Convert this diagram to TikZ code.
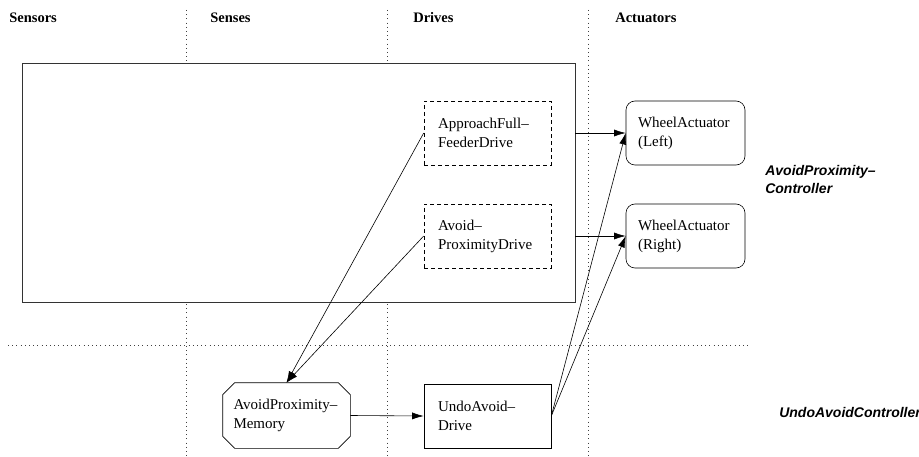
\documentclass[tikz,border=0pt]{standalone}
\usepackage{fontspec}
\setmainfont{Liberation Serif}
\newfontfamily\ctlfont{Liberation Sans}
\usetikzlibrary{arrows.meta}
\tikzstyle{every node}=[inner sep=0pt, font=\fontsize{15}{19}\selectfont]
\tikzset{divider/.style={draw=black!75, line width=0.7pt, dash pattern=on 0.8pt off 3.4pt}}
\tikzset{block/.style={draw, line width=0.6pt, minimum width=127pt, minimum height=64pt,
      align=left, text width=99pt, inner xsep=14pt}}
\tikzset{module/.style={block, dashed, dash pattern=on 4pt off 3pt}}
\tikzset{wheel/.style={block, rounded corners=9pt, minimum width=119pt, text width=95pt, inner xsep=12pt}}
\tikzset{layer/.style={anchor=west, align=left, font=\ctlfont\bfseries\itshape\fontsize{14}{18}\selectfont}}
\tikzset{column/.style={anchor=west, font=\bfseries\fontsize{14.5}{17}\selectfont}}

\begin{document}
\begin{tikzpicture}[x=1pt, y=-1pt, line width=0.6pt, >={Latex[length=11.5pt,width=7pt]}]
    \useasboundingbox (0,0) rectangle (919,457);

    \draw[divider] (186,10) -- (186,457);
    \draw[divider] (387,10) -- (387,457);
    \draw[divider] (588,10) -- (588,457);
    \draw[divider] (8,345) -- (750,345);

    \node[column] (sensors) at (9,18) {Sensors};
    \node[column] (senses) at (210,18) {Senses};
    \node[column] (drives) at (413,18) {Drives};
    \node[column] (actuators) at (615,18) {Actuators};

    \node[draw=black!80, line width=0.8pt, fill=white, minimum width=553pt, minimum height=239pt] (ctl) at (298.5,182.5) {};
    \node[module] (afd) at (487.5,133) {ApproachFull–\\FeederDrive};
    \node[module] (apd) at (487.5,236) {Avoid–\\ProximityDrive};
    \node[wheel] (wl) at (685.5,133) {WheelActuator\\(Left)};
    \node[wheel] (wr) at (685.5,236) {WheelActuator\\(Right)};

    \node[block, draw=none, minimum height=65pt, text width=106pt, inner xsep=10.5pt] (mem) at (286.5,415.5) {AvoidProximity–\\Memory};
    \draw ([xshift=12pt]mem.north west) -- ([xshift=-12pt]mem.north east) -- ([yshift=-12pt]mem.north east)
      -- ([yshift=12pt]mem.south east) -- ([xshift=-12pt]mem.south east) -- ([xshift=12pt]mem.south west)
      -- ([yshift=12pt]mem.south west) -- ([yshift=-12pt]mem.north west) -- cycle;
    \node[block] (undo) at (487.5,416) {UndoAvoid–\\Drive};

    \node[layer] (avoidctl) at (765,179) {AvoidProximity–\\Controller};
    \node[layer] (undoctl) at (779,412) {UndoAvoidController};

    \draw[->] (afd -| ctl.east) -- (wl.west);
    \draw[->] (apd -| ctl.east) -- (wr.west);
    \draw[->] (afd.west) -- (mem.north);
    \draw[->] (apd.west) -- (mem.north);
    \draw[->] (mem.east) -- (undo.west);
    \draw[->] (undo.east) -- (wl.west);
    \draw[->] (undo.east) -- (wr.west);
\end{tikzpicture}
\end{document}
